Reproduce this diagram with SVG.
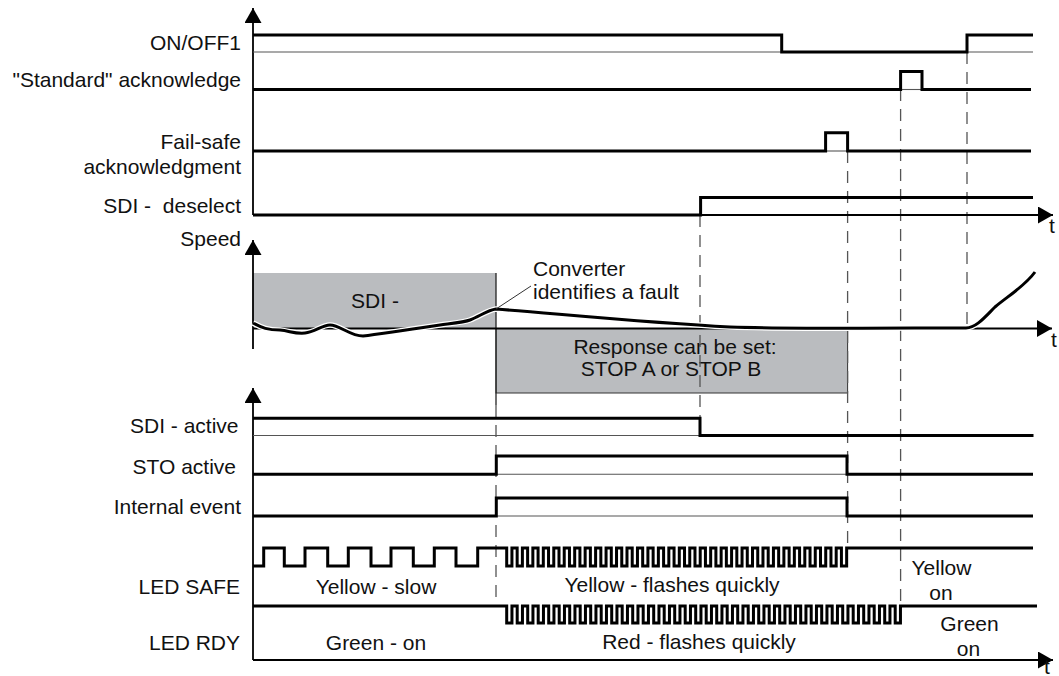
<svg xmlns="http://www.w3.org/2000/svg" width="1059" height="676" viewBox="0 0 1059 676">
<style>
text{font-family:"Liberation Sans",Arial,Helvetica,sans-serif;font-size:21px;fill:#111}
.lbl{text-anchor:end}
.mid{text-anchor:middle}
.sig{fill:none;stroke:#000;stroke-width:3;stroke-linejoin:miter;stroke-linecap:butt}
.thin{fill:none;stroke:#555;stroke-width:1.1}
.axis{fill:none;stroke:#000;stroke-width:1.8}
.dash{fill:none;stroke:#555;stroke-width:1.3;stroke-dasharray:12 8}
.box{fill:#babcbf}
</style>
<defs>
<marker id="arr" viewBox="0 0 15 17" refX="15" refY="8.5" markerWidth="15" markerHeight="17" markerUnits="userSpaceOnUse" orient="auto">
<path d="M0,0 L15,8.5 L0,17 Z" fill="#000"/>
</marker>
</defs>

<g id="speed-boxes">
<rect class="box" x="253" y="273" width="243" height="55.5"/>
<rect class="box" x="496" y="328.5" width="351.6" height="64.5" stroke="#333" stroke-width="1"/>
<text class="mid" x="375" y="307.5">SDI -</text>
<text class="mid" x="675" y="354">Response can be set:</text>
<text class="mid" x="671" y="376">STOP A or STOP B</text>
</g>

<g id="connectors">
<path class="dash" d="M496,405 V604"/>
<path class="dash" d="M700,215 V418"/>
<path class="dash" d="M847.6,151 V548"/>
<path class="dash" d="M900.6,89 V605"/>
<path class="dash" d="M967,52 V327"/>
<path d="M496,273 V405" stroke="#222" stroke-width="1.3" fill="none"/>
</g>

<g id="axes">
<path class="axis" d="M253,215 V8" marker-end="url(#arr)"/>
<path class="axis" d="M253,215 H1053" marker-end="url(#arr)"/>
<path class="axis" d="M253,349 V240" marker-end="url(#arr)"/>
<path class="axis" d="M253,328.5 H1052" marker-end="url(#arr)"/>
<path class="axis" d="M253,660 V388" marker-end="url(#arr)"/>
<path class="axis" d="M253,660 H1053" marker-end="url(#arr)"/>
<text x="1049" y="233">t</text>
<text x="1051" y="347">t</text>
<text x="1044" y="674">t</text>
</g>

<g id="on-off1">
<text class="lbl" x="241" y="50">ON/OFF1</text>
<path class="thin" d="M253,52 H1033"/>
<path class="sig" d="M253,35 H781.7 V52 H967 V35 H1033"/>
</g>

<g id="standard-ack">
<text class="lbl" x="241" y="86.5">"Standard" acknowledge</text>
<path class="thin" d="M900.6,89.5 H922"/>
<path class="sig" d="M253,89.5 H900.6 V71.6 H922 V89.5 H1031"/>
</g>

<g id="failsafe-ack">
<text class="lbl" x="241" y="148.5">Fail-safe</text>
<text class="lbl" x="241" y="174">acknowledgment</text>
<path class="thin" d="M825.6,151 H847.6"/>
<path class="sig" d="M253,151 H825.6 V132.8 H847.6 V151 H1031"/>
</g>

<g id="sdi-deselect">
<text class="lbl" x="241" y="213" style="white-space:pre">SDI -  deselect</text>
<path class="sig" d="M253,215 H700.6 V197.6 H1033"/>
</g>

<g id="speed">
<text class="lbl" x="241" y="246">Speed</text>
<path d="M253,323 C262,328 268,330 280,330 C290,331 295,334 305,333 C315,332 322,325 330,325 C340,325 350,336 363,336 C380,334 420,328 440,325 C455,323 465,322 470,320 C480,316 488,310 496,309 C560,314 650,323 730,327 C800,329 900,328 966,328 C976,328 985,317 995,307 C1008,296 1025,286 1035,272" fill="none" stroke="#fff" stroke-width="5.5"/>
<path d="M253,323 C262,328 268,330 280,330 C290,331 295,334 305,333 C315,332 322,325 330,325 C340,325 350,336 363,336 C380,334 420,328 440,325 C455,323 465,322 470,320 C480,316 488,310 496,309 C560,314 650,323 730,327 C800,329 900,328 966,328 C976,328 985,317 995,307 C1008,296 1025,286 1035,272" fill="none" stroke="#000" stroke-width="3"/>
</g>

<g id="fault-note">
<path d="M496,309 L531,286" stroke="#333" stroke-width="1" fill="none"/>
<text x="533" y="275.5">Converter</text>
<text x="533" y="299">identifies a fault</text>
</g>

<g id="sdi-active">
<text class="lbl" x="238.5" y="433">SDI - active</text>
<path class="thin" d="M253,435.5 H700"/>
<path class="sig" d="M253,418.3 H700 V435.5 H1033.5"/>
</g>

<g id="sto-active">
<text class="lbl" x="236" y="473.5">STO active</text>
<path class="thin" d="M496,474.3 H847"/>
<path class="sig" d="M253,474.3 H496.3 V456 H847 V474.3 H1033"/>
</g>

<g id="internal-event">
<text class="lbl" x="241" y="514">Internal event</text>
<path class="thin" d="M496,516 H847"/>
<path class="sig" d="M253,516 H496.3 V498 H847 V516 H1033"/>
</g>

<g id="led-safe">
<text class="lbl" x="240" y="593.5">LED SAFE</text>
<text class="mid" x="376" y="593.5">Yellow - slow</text>
<text class="mid" x="672" y="592">Yellow - flashes quickly</text>
<text class="mid" x="941.5" y="575">Yellow</text>
<text class="mid" x="941" y="599.5">on</text>
<path class="sig" d="M253,566 H263.7 V548 H284.3 V566 H305 V548 H327.7 V566 H348.3 V548 H371 V566 H391 V548 H413.3 V566 H434.3 V548 H456 V566 H477.7 V548 H506.7
v18 h5.23 v-18 h5.23 v18 h5.23 v-18 h5.23 v18 h5.23 v-18 h5.23 v18 h5.23 v-18 h5.23
v18 h5.23 v-18 h5.23 v18 h5.23 v-18 h5.23 v18 h5.23 v-18 h5.23 v18 h5.23 v-18 h5.23
v18 h5.23 v-18 h5.23 v18 h5.23 v-18 h5.23 v18 h5.23 v-18 h5.23 v18 h5.23 v-18 h5.23
v18 h5.23 v-18 h5.23 v18 h5.23 v-18 h5.23 v18 h5.23 v-18 h5.23 v18 h5.23 v-18 h5.23
v18 h5.23 v-18 h5.23 v18 h5.23 v-18 h5.23 v18 h5.23 v-18 h5.23 v18 h5.23 v-18 h5.23
v18 h5.23 v-18 h5.23 v18 h5.23 v-18 h5.23 v18 h5.23 v-18 h5.23 v18 h5.23 v-18 h5.23
v18 h5.23 v-18 h5.23 v18 h5.23 v-18 h5.23 v18 h5.23 v-18 h5.23 v18 h5.23 v-18 h5.23
v18 h5.23 v-18 h5.23 v18 h5.23 v-18 h5.23 v18 h5.23 v-18 h5.23 v18 h5.23 v-18 h5.23
v18 h5.23 v-18 H1033"/>
</g>

<g id="led-rdy">
<text class="lbl" x="240" y="649.5">LED RDY</text>
<text class="mid" x="376" y="649.5">Green - on</text>
<text class="mid" x="699" y="649">Red - flashes quickly</text>
<text class="mid" x="969.5" y="631">Green</text>
<text class="mid" x="968.5" y="656">on</text>
<path class="sig" d="M253,606 H506.7
v17 h5.25 v-17 h5.25 v17 h5.25 v-17 h5.25 v17 h5.25 v-17 h5.25 v17 h5.25 v-17 h5.25
v17 h5.25 v-17 h5.25 v17 h5.25 v-17 h5.25 v17 h5.25 v-17 h5.25 v17 h5.25 v-17 h5.25
v17 h5.25 v-17 h5.25 v17 h5.25 v-17 h5.25 v17 h5.25 v-17 h5.25 v17 h5.25 v-17 h5.25
v17 h5.25 v-17 h5.25 v17 h5.25 v-17 h5.25 v17 h5.25 v-17 h5.25 v17 h5.25 v-17 h5.25
v17 h5.25 v-17 h5.25 v17 h5.25 v-17 h5.25 v17 h5.25 v-17 h5.25 v17 h5.25 v-17 h5.25
v17 h5.25 v-17 h5.25 v17 h5.25 v-17 h5.25 v17 h5.25 v-17 h5.25 v17 h5.25 v-17 h5.25
v17 h5.25 v-17 h5.25 v17 h5.25 v-17 h5.25 v17 h5.25 v-17 h5.25 v17 h5.25 v-17 h5.25
v17 h5.25 v-17 h5.25 v17 h5.25 v-17 h5.25 v17 h5.25 v-17 h5.25 v17 h5.25 v-17 h5.25
v17 h5.25 v-17 h5.25 v17 h5.25 v-17 h5.25 v17 h5.25 v-17 h5.25 v17 h5.25 v-17 h5.25
v17 h5.25 v-17 h5.25
v17 h5.25 v-17 H1037"/>
</g>
</svg>
